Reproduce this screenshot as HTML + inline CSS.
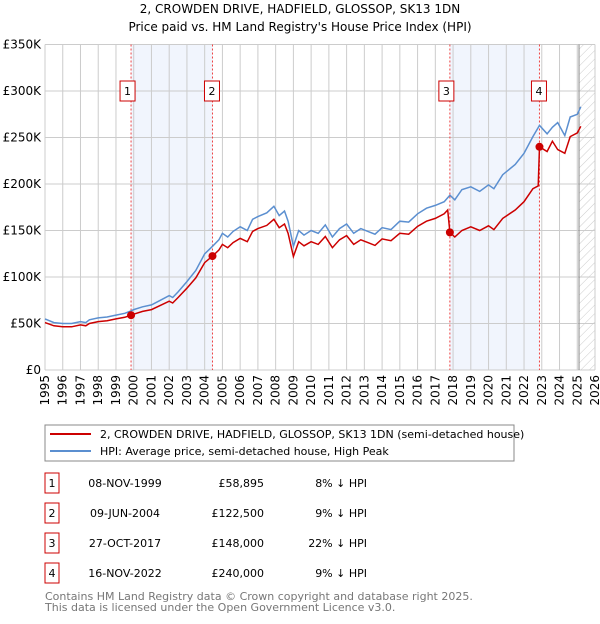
<!DOCTYPE html>
<html><head><meta charset="utf-8"><style>
body{margin:0;background:#fff;font-family:"DejaVu Sans","Liberation Sans",sans-serif;}
svg text{font-family:"DejaVu Sans","Liberation Sans",sans-serif;}
</style></head><body>
<svg id="chart" width="600" height="620" viewBox="0 0 600 620" xmlns="http://www.w3.org/2000/svg">
<defs><pattern id="hatch" patternUnits="userSpaceOnUse" width="6" height="6" patternTransform="rotate(45)"><line x1="0" y1="0" x2="0" y2="6" stroke="#ccc" stroke-width="1"/></pattern></defs>
<text x="300" y="13" text-anchor="middle" font-size="12">2, CROWDEN DRIVE, HADFIELD, GLOSSOP, SK13 1DN</text>
<text x="300" y="31" text-anchor="middle" font-size="12">Price paid vs. HM Land Registry's House Price Index (HPI)</text>
<g id="plot"></g>
<g>
<rect x="45" y="425" width="469" height="36" fill="#fff" stroke="#888"/>
<line x1="50" y1="434" x2="91" y2="434" stroke="#cc0000" stroke-width="2"/>
<text x="100" y="438" font-size="11">2, CROWDEN DRIVE, HADFIELD, GLOSSOP, SK13 1DN (semi-detached house)</text>
<line x1="50" y1="451" x2="91" y2="451" stroke="#5b8fd0" stroke-width="2"/>
<text x="100" y="455" font-size="11">HPI: Average price, semi-detached house, High Peak</text>
</g>
<g id="table"></g>
<text x="45" y="600" font-size="11" fill="#777">Contains HM Land Registry data © Crown copyright and database right 2025.</text>
<text x="45" y="611" font-size="11" fill="#777">This data is licensed under the Open Government Licence v3.0.</text>
</svg>
<script>
const yTicks=[0,50,100,150,200,250,300,350];
const yTickLabels=["£0","£50K","£100K","£150K","£200K","£250K","£300K","£350K"];
const xYears=[1995,1996,1997,1998,1999,2000,2001,2002,2003,2004,2005,2006,2007,2008,2009,2010,2011,2012,2013,2014,2015,2016,2017,2018,2019,2020,2021,2022,2023,2024,2025,2026];
const hpiDates=[1995.0,1995.5,1996,1996.5,1997,1997.3,1997.5,1998,1998.5,1999,1999.5,1999.85,2000,2000.5,2001,2001.5,2002,2002.2,2002.5,2003,2003.5,2004,2004.44,2004.8,2005,2005.3,2005.6,2006,2006.4,2006.7,2007,2007.5,2007.9,2008.2,2008.5,2008.7,2009.0,2009.3,2009.6,2010,2010.4,2010.8,2011.2,2011.6,2012,2012.4,2012.8,2013.2,2013.6,2014,2014.5,2015,2015.5,2016,2016.5,2017,2017.5,2017.82,2018.1,2018.5,2019,2019.5,2020,2020.3,2020.8,2021.5,2022,2022.5,2022.87,2023.3,2023.6,2023.9,2024.3,2024.6,2025,2025.2];
const hpiValues=[55,51,50,50,52,51,54,56,57,59,61,63.5,65,68,70,75,80,78,84,95,107,125,133,140,147,143,149,154,150,162,165,169,176,166,171,160,133,150,145,150,147,156,143,152,157,147,152,149,146,153,151,160,159,168,174,177,181,188,183,194,197,192,199,195,210,221,233,251,263,254,261,266,252,272,275,283];
const priceDates=[1995.0,1995.5,1996,1996.5,1997,1997.3,1997.5,1998,1998.5,1999,1999.5,1999.85,2000,2000.5,2001,2001.5,2002,2002.2,2002.5,2003,2003.5,2004,2004.44,2004.8,2005,2005.3,2005.6,2006,2006.4,2006.7,2007,2007.5,2007.9,2008.2,2008.5,2008.7,2009.0,2009.3,2009.6,2010,2010.4,2010.8,2011.2,2011.6,2012,2012.4,2012.8,2013.2,2013.6,2014,2014.5,2015,2015.5,2016,2016.5,2017,2017.5,2017.7,2017.82,2018.1,2018.5,2019,2019.5,2020,2020.3,2020.8,2021.5,2022,2022.5,2022.8,2022.87,2023.3,2023.6,2023.9,2024.3,2024.6,2025,2025.2];
const priceValues=[51,47.5,46.5,46.5,48.5,47.5,50,52,53,55,56.7,58.9,60,63,65,69.5,74,72,78,88,99,115.5,122.5,129,135,131.5,137,141.5,138,149,152,155.5,162,153,157,147,122,138,133.5,138,135,143.5,131.5,140,144.5,135,140,137,134,141,139,147,146,154.5,160,163,168,172,148,143,150,154,150,155,151,163,172,181,195,198,240,235,246,237,233,251,255,262];
const saleDates=[1999.85,2004.44,2017.82,2022.87];
const saleValues=[58.895,122.5,148,240];
const saleLabels=["1","2","3","4"];
const saleDateText=["08-NOV-1999","09-JUN-2004","27-OCT-2017","16-NOV-2022"];
const salePriceText=["£58,895","£122,500","£148,000","£240,000"];
const saleHpiText=["8% ↓ HPI","9% ↓ HPI","22% ↓ HPI","9% ↓ HPI"];

const NS="http://www.w3.org/2000/svg";
const X0=45,X1=595,Y0=370,Y1=44.5;
const xs=t=>X0+(t-1995)/(2026-1995)*(X1-X0);
const ys=v=>Y0-v/350*(Y0-Y1);
const plot=document.getElementById('plot');
function mk(tag,attrs,parent){const e=document.createElementNS(NS,tag);for(const k in attrs)e.setAttribute(k,attrs[k]);(parent||plot).appendChild(e);return e;}

// shaded spans
for(let i=0;i<saleDates.length;i+=2){
 const r=mk('rect',{x:xs(saleDates[i]),y:Y1,width:xs(saleDates[i+1])-xs(saleDates[i]),height:Y0-Y1,fill:'#eef3fc',opacity:0.8});
 
 
}
// hatch future
const hz=mk('rect',{x:xs(2025.1),y:Y1,width:X1-xs(2025.1),height:Y0-Y1,fill:'url(#hatch)'});


// grid
xYears.forEach(y=>{const l=mk('line',{x1:xs(y),x2:xs(y),y1:Y1,y2:Y0,stroke:'#ccc','stroke-width':1});
 
 
 const t=mk('text',{x:0,y:0,'font-size':12,'text-anchor':'end',transform:`translate(${xs(y)+4},${Y0+5}) rotate(-90)`});
 t.textContent=y;
 
 
});
yTicks.forEach((v,i)=>{const l=mk('line',{x1:X0,x2:X1,y1:ys(v),y2:ys(v),stroke:'#ccc','stroke-width':1});
 
 
 const t=mk('text',{x:X0-4,y:ys(v)+4,'font-size':12,'text-anchor':'end'});
 t.textContent=yTickLabels[i];
 
 
});
const nowl=mk('line',{x1:xs(2025.1),x2:xs(2025.1),y1:Y1,y2:Y0,stroke:'#888','stroke-width':1});


// sale lines + markers
saleDates.forEach((d,i)=>{
 const l=mk('line',{x1:xs(d),x2:xs(d),y1:Y1,y2:Y0,stroke:'#ee4444','stroke-width':1,'stroke-dasharray':'2,2'});
 
 
 const bx=xs(d)-(i%2==0?3:0)-7;
 const r=mk('rect',{x:bx-1,y:81,width:15,height:20,fill:'#fff',stroke:'#cc0000'});
 
 
 const t=mk('text',{x:bx+6.5,y:95,'font-size':11,'text-anchor':'middle'});
 t.textContent=saleLabels[i];
 
 
});
function pathOf(ds,vs){return ds.map((d,i)=>(i?'L':'M')+xs(d).toFixed(1)+','+ys(vs[i]).toFixed(1)).join('');}
const hp=mk('path',{d:pathOf(hpiDates,hpiValues),fill:'none',stroke:'#5b8fd0','stroke-width':1.5});


const pp=mk('path',{d:pathOf(priceDates,priceValues),fill:'none',stroke:'#cc0000','stroke-width':1.5});


saleDates.forEach((d,i)=>{const c=mk('circle',{cx:xs(d),cy:ys(saleValues[i]),r:4,fill:'#cc0000'});
 
 
});
// table
const tb=document.getElementById('table');
saleLabels.forEach((s,i)=>{const cy=483+i*30;
 const r=mk('rect',{x:45,y:cy-10,width:14,height:20,fill:'#fff',stroke:'#cc0000'},tb);
 
 
 const cells=[[52,s,'middle'],[125,saleDateText[i],'middle'],[264,salePriceText[i],'end'],[367,saleHpiText[i],'end']];
 cells.forEach(c=>{const t=mk('text',{x:c[0],y:cy+4,'font-size':11,'text-anchor':c[2]},tb);
  t.textContent=c[1];
  
  
 });
});
</script>
</body></html>
